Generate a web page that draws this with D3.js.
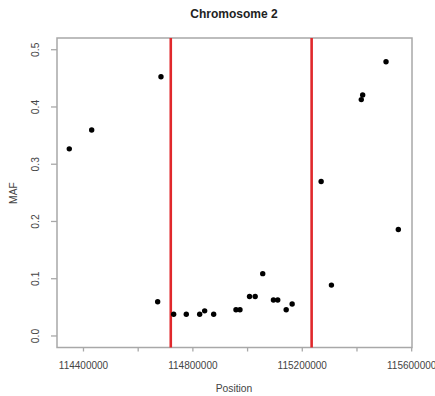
<!DOCTYPE html>
<html>
<head>
<meta charset="utf-8">
<script src="https://cdn.jsdelivr.net/npm/d3@7"></script>
<style>
  body { margin: 0; background: #fff; }
  text { font-family: "Liberation Sans", Arial, sans-serif; }
</style>
</head>
<body>
<div id="plot"></div>
<script>
// SNP positions and minor allele frequencies
var positions = [114349900, 114431800, 114685200, 114673100, 114731600, 114777700,
  114826700, 114844900, 114877900, 114959400, 114974000, 115009000, 115029600,
  115057200, 115096400, 115112100, 115143000, 115164800, 115270800, 115308400,
  115417600, 115422600, 115508000, 115553000]
var maf = [0.326, 0.359, 0.452, 0.059, 0.037, 0.037,
  0.037, 0.043, 0.037, 0.045, 0.045, 0.068, 0.068,
  0.108, 0.062, 0.062, 0.045, 0.055, 0.269, 0.088,
  0.412, 0.420, 0.478, 0.185]
var boundaries = [114721000, 115236000]
var xTicks = [114400000, 114600000, 114800000, 115000000, 115200000, 115400000, 115600000]
var xLabels = [114400000, 114800000, 115200000, 115600000]
var yTicks = [0, 0.1, 0.2, 0.3, 0.4, 0.5]

var W = 435, H = 396
var margin = { left: 57, right: 412, top: 38, bottom: 347.5 }

var svg = d3.select('#plot').append('svg')
  .attr('width', W)
  .attr('height', H)

var x = d3.scaleLinear().domain([114305000, 115603000]).range([margin.left, margin.right])
var y = d3.scaleLinear().domain([-0.021, 0.5196]).range([margin.bottom, margin.top])

var grey = '#a8a8a8'
var labelGrey = '#444'

// box
svg.append('rect')
  .attr('x', margin.left).attr('y', margin.top)
  .attr('width', margin.right - margin.left).attr('height', margin.bottom - margin.top)
  .attr('fill', 'none').attr('stroke', grey).attr('stroke-width', 1.5)

// x axis
var xAxis = svg.append('g').attr('transform', 'translate(0,' + margin.bottom + ')')
  .call(d3.axisBottom(x).tickValues(xTicks).tickSize(4).tickFormat(function(d) {
    return xLabels.indexOf(d) >= 0 ? d3.format('d')(d) : ''
  }))
xAxis.select('.domain').remove()
xAxis.selectAll('line').attr('stroke', grey).attr('stroke-width', 1.3)
xAxis.selectAll('text').attr('fill', labelGrey).attr('font-size', 10).attr('dy', '1.4em')

// y axis
var yAxis = svg.append('g').attr('transform', 'translate(' + margin.left + ',0)')
  .call(d3.axisLeft(y).tickValues(yTicks).tickSize(6).tickFormat(d3.format('.1f')))
yAxis.select('.domain').remove()
yAxis.selectAll('line').attr('stroke', grey).attr('stroke-width', 1.3)
yAxis.selectAll('text')
  .attr('fill', labelGrey).attr('font-size', 10.3)
  .attr('text-anchor', 'middle')
  .attr('x', 0).attr('dy', 0)
  .attr('transform', 'translate(-18,0) rotate(-90)')

// boundary lines
svg.selectAll('line.boundary').data(boundaries).enter().append('line')
  .attr('class', 'boundary')
  .attr('x1', function(d) { return x(d) }).attr('x2', function(d) { return x(d) })
  .attr('y1', margin.top).attr('y2', margin.bottom)
  .attr('stroke', '#e0282c').attr('stroke-width', 2.6)

// points
svg.selectAll('circle').data(positions).enter().append('circle')
  .attr('cx', function(d) { return x(d) })
  .attr('cy', function(d, i) { return y(maf[i]) })
  .attr('r', 2.7)
  .attr('fill', '#000')

svg.append('text')
  .text('Chromosome 2')
  .attr('x', 234).attr('y', 18)
  .attr('text-anchor', 'middle')
  .attr('font-weight', 'bold')
  .attr('font-size', 12)
  .attr('fill', '#222')

svg.append('text')
  .text('Position')
  .attr('x', 234).attr('y', 392)
  .attr('text-anchor', 'middle')
  .attr('font-size', 10.3)
  .attr('fill', labelGrey)

svg.append('text')
  .text('MAF')
  .attr('text-anchor', 'middle')
  .attr('font-size', 10.3)
  .attr('fill', labelGrey)
  .attr('transform', 'translate(17,193) rotate(-90)')
</script>
</body>
</html>
